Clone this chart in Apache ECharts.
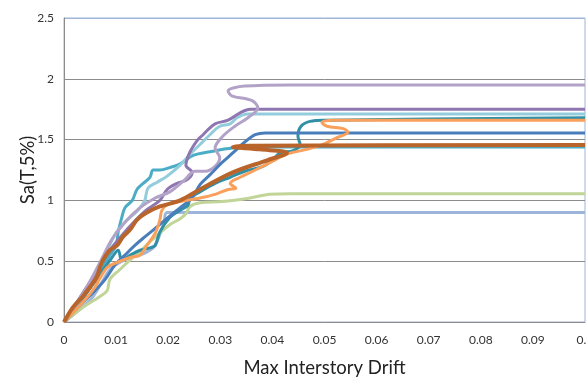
<!DOCTYPE html>
<html>
<head>
<meta charset="utf-8">
<script src="https://cdn.jsdelivr.net/npm/echarts@6/dist/echarts.min.js"></script>
<style>
  html, body { margin: 0; padding: 0; background: #fff; }
  #chart { width: 587px; height: 379px; }
</style>
</head>
<body>
<div id="chart"></div>
<script>
// x ticks 0 .. 0.1, y ticks 0 .. 2.5
const xTicks = [0, 0.01, 0.02, 0.03, 0.04, 0.05, 0.06, 0.07, 0.08, 0.09, 0.1];
const yTicks = [0, 0.5, 1, 1.5, 2, 2.5];

// IDA curves: [drift, Sa]
const lightBlueX = [0, 0.0050, 0.0069, 0.0088, 0.0107, 0.0127, 0.0146, 0.0165, 0.0175, 0.0184, 0.0192, 0.0198, 0.1];
const lightBlueY = [0, 0.18, 0.30, 0.43, 0.49, 0.53, 0.55, 0.59, 0.63, 0.72, 0.82, 0.90, 0.90];

const greenX = [0, 0.0036, 0.0069, 0.0083, 0.0088, 0.0107, 0.0127, 0.0146, 0.0165, 0.0184, 0.0203, 0.0223, 0.0234, 0.0242, 0.0261, 0.0303, 0.0357, 0.0395, 0.0434, 0.1];
const greenY = [0, 0.12, 0.21, 0.26, 0.35, 0.43, 0.51, 0.58, 0.66, 0.73, 0.80, 0.85, 0.89, 0.95, 0.98, 0.99, 1.02, 1.05, 1.055, 1.055];

const cyanX = [0, 0.0040, 0.0069, 0.0088, 0.0100, 0.0104, 0.0111, 0.0117, 0.0131, 0.0140, 0.0152, 0.0165, 0.0171, 0.0184, 0.0203, 0.0223, 0.0248, 0.0280, 0.0324, 0.0376, 0.1];
const cyanY = [0, 0.22, 0.41, 0.55, 0.63, 0.74, 0.86, 0.94, 1.00, 1.09, 1.14, 1.19, 1.25, 1.25, 1.27, 1.30, 1.37, 1.40, 1.43, 1.44, 1.44];

const tealX = [0, 0.0040, 0.0069, 0.0092, 0.0104, 0.0111, 0.0127, 0.0146, 0.0165, 0.0175, 0.0184, 0.0203, 0.0223, 0.0238, 0.0242, 0.0261, 0.0290, 0.0319, 0.0347, 0.0382, 0.0399, 0.0415, 0.0440, 0.0453, 0.0449, 0.0455, 0.0472, 0.0501, 0.1];
const tealY = [0, 0.22, 0.39, 0.53, 0.59, 0.51, 0.55, 0.59, 0.61, 0.63, 0.74, 0.86, 0.92, 0.96, 1.02, 1.07, 1.14, 1.19, 1.24, 1.28, 1.33, 1.39, 1.41, 1.46, 1.53, 1.61, 1.65, 1.66, 1.68];

const lightCyanX = [0, 0.0031, 0.0060, 0.0079, 0.0098, 0.0117, 0.0142, 0.0155, 0.0161, 0.0179, 0.0198, 0.0223, 0.0242, 0.0261, 0.0280, 0.0299, 0.0319, 0.0332, 0.0353, 0.1];
const lightCyanY = [0, 0.18, 0.39, 0.55, 0.72, 0.82, 0.92, 1.00, 1.10, 1.15, 1.20, 1.29, 1.38, 1.46, 1.54, 1.61, 1.63, 1.68, 1.71, 1.71];

const purpleX = [0, 0.0050, 0.0088, 0.0123, 0.0155, 0.0184, 0.0198, 0.0217, 0.0236, 0.0246, 0.0234, 0.0242, 0.0257, 0.0267, 0.0276, 0.0290, 0.0315, 0.0338, 0.0357, 0.1];
const purpleY = [0, 0.33, 0.59, 0.77, 0.91, 1.00, 1.09, 1.14, 1.17, 1.23, 1.29, 1.40, 1.50, 1.54, 1.58, 1.63, 1.66, 1.72, 1.75, 1.75];

const lavenderX = [0, 0.0040, 0.0069, 0.0092, 0.0117, 0.0146, 0.0175, 0.0203, 0.0232, 0.0251, 0.0271, 0.0290, 0.0299, 0.0290, 0.0303, 0.0328, 0.0353, 0.0372, 0.0361, 0.0322, 0.0315, 0.0347, 0.0434, 0.1];
const lavenderY = [0, 0.26, 0.49, 0.68, 0.82, 0.94, 1.02, 1.07, 1.17, 1.24, 1.24, 1.28, 1.35, 1.43, 1.52, 1.61, 1.68, 1.76, 1.82, 1.86, 1.90, 1.94, 1.95, 1.95];

const blueX = [0, 0.0031, 0.0060, 0.0079, 0.0098, 0.0117, 0.0136, 0.0155, 0.0175, 0.0200, 0.0223, 0.0246, 0.0261, 0.0280, 0.0303, 0.0324, 0.0347, 0.0367, 0.0386, 0.1];
const blueY = [0, 0.14, 0.26, 0.35, 0.47, 0.55, 0.63, 0.70, 0.77, 0.86, 0.94, 1.02, 1.13, 1.21, 1.31, 1.39, 1.48, 1.54, 1.555, 1.555];

const orangeX = [0, 0.0040, 0.0060, 0.0069, 0.0083, 0.0102, 0.0127, 0.0146, 0.0159, 0.0175, 0.0184, 0.0188, 0.0200, 0.0223, 0.0261, 0.0290, 0.0315, 0.0330, 0.0319, 0.0338, 0.0367, 0.0395, 0.0428, 0.0466, 0.0497, 0.0526, 0.0545, 0.0536, 0.0505, 0.0495, 0.0514, 0.1];
const orangeY = [0, 0.18, 0.29, 0.36, 0.45, 0.49, 0.53, 0.55, 0.63, 0.73, 0.84, 0.92, 0.97, 0.99, 1.02, 1.05, 1.09, 1.10, 1.14, 1.19, 1.25, 1.31, 1.38, 1.42, 1.46, 1.52, 1.56, 1.59, 1.61, 1.64, 1.66, 1.66];

const brownX = [0, 0.0017, 0.0036, 0.0050, 0.0063, 0.0069, 0.0075, 0.0088, 0.0102, 0.0113, 0.0127, 0.0140, 0.0159, 0.0184, 0.0223, 0.0261, 0.0324, 0.0390, 0.0428, 0.0376, 0.0324, 0.0357, 0.1];
const brownY = [0, 0.12, 0.21, 0.29, 0.37, 0.45, 0.51, 0.59, 0.63, 0.70, 0.76, 0.84, 0.90, 0.95, 1.00, 1.09, 1.23, 1.33, 1.39, 1.42, 1.44, 1.45, 1.455];

const curves = [
  { x: lightBlueX, y: lightBlueY, color: '#9db5da', width: 3 },
  { x: greenX, y: greenY, color: '#c0d597', width: 3 },
  { x: cyanX, y: cyanY, color: '#4bacc6', width: 3 },
  { x: tealX, y: tealY, color: '#3190a6', width: 3 },
  { x: lightCyanX, y: lightCyanY, color: '#93cddd', width: 3 },
  { x: purpleX, y: purpleY, color: '#8e76b0', width: 3 },
  { x: lavenderX, y: lavenderY, color: '#b3a2c7', width: 3 },
  { x: blueX, y: blueY, color: '#4a7ebb', width: 3 },
  { x: orangeX, y: orangeY, color: '#f9a05c', width: 3 },
  { x: brownX, y: brownY, color: '#b9642a', width: 4 },
];

const chart = echarts.init(document.getElementById('chart'));
const font = 'Lato, "Open Sans", sans-serif';
const gridGray = '#8c8c8c';
const borderBlue = '#9eb6d8';

chart.setOption({
  animation: false,
  grid: {
    left: 64, right: 2, top: 18, bottom: 57,
    outerBoundsMode: 'none',
    show: true, borderColor: borderBlue, borderWidth: 1,
  },
  xAxis: {
    type: 'value',
    min: xTicks[0],
    max: xTicks[xTicks.length - 1],
    interval: 0.01,
    name: 'Max Interstory Drift',
    nameLocation: 'middle',
    nameGap: 37,
    nameMoveOverlap: false,
    nameTextStyle: { fontFamily: font, fontSize: 18.5, color: '#222' },
    axisLine: { lineStyle: { color: gridGray, width: 1 } },
    axisTick: { show: false },
    splitLine: { show: false },
    axisLabel: {
      margin: 12,
      fontFamily: font,
      fontSize: 12,
      color: '#333',
      formatter: (v) => String(+v.toFixed(2)),
    },
  },
  yAxis: {
    type: 'value',
    min: yTicks[0],
    max: yTicks[yTicks.length - 1],
    interval: 0.5,
    name: 'Sa(T,5%)',
    nameLocation: 'middle',
    nameGap: 26,
    nameMoveOverlap: false,
    nameTextStyle: { fontFamily: font, fontSize: 18.5, color: '#222' },
    axisLine: { show: true, lineStyle: { color: gridGray, width: 1 } },
    axisTick: { show: false },
    splitLine: {
      lineStyle: { color: yTicks.map((t, i) => (i === yTicks.length - 1 ? borderBlue : gridGray)), width: 1 },
    },
    axisLabel: {
      margin: 10,
      fontFamily: font,
      fontSize: 12,
      color: '#333',
      formatter: (v) => String(+v.toFixed(1)),
    },
  },
  series: curves.map((c) => ({
    type: 'line',
    smooth: 0.35,
    symbol: 'none',
    clip: false,
    lineStyle: { color: c.color, width: c.width },
    data: c.x.map((x, i) => [x, c.y[i]]),
  })),
});
</script>
</body>
</html>
